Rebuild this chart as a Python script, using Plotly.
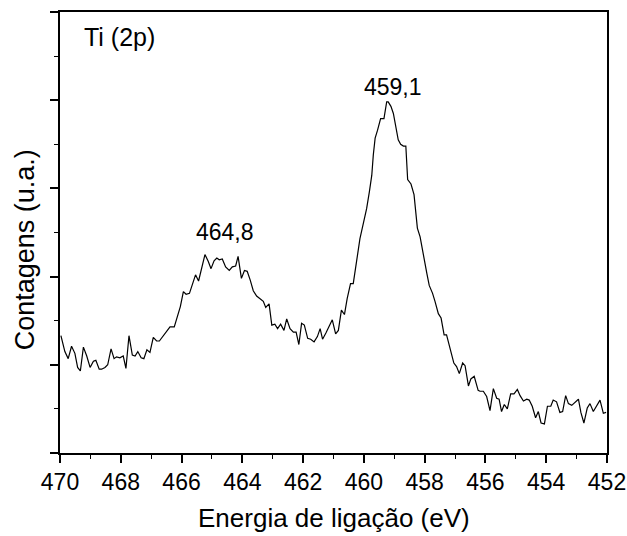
import plotly.graph_objects as go

energia = [469.97, 469.84, 469.73, 469.62, 469.51, 469.42, 469.33, 469.23, 469.12, 469.01,
           468.90, 468.82, 468.71, 468.63, 468.52, 468.43, 468.32, 468.22, 468.14, 468.03,
           467.92, 467.83, 467.73, 467.62, 467.53, 467.44, 467.33, 467.24, 467.14, 467.04,
           466.93, 466.82, 466.73, 466.60, 466.49, 466.38, 466.24, 466.14, 466.04, 465.94,
           465.85, 465.74, 465.63, 465.54, 465.44, 465.34, 465.23, 465.12, 465.03, 464.93,
           464.84, 464.76, 464.66, 464.55, 464.43, 464.33, 464.22, 464.14, 464.03, 463.93,
           463.84, 463.74, 463.64, 463.53, 463.42, 463.31, 463.23, 463.12, 463.03, 462.93,
           462.84, 462.74, 462.63, 462.54, 462.43, 462.32, 462.23, 462.14, 462.05, 461.96,
           461.85, 461.75, 461.64, 461.53, 461.44, 461.36, 461.25, 461.14, 461.04, 460.93,
           460.84, 460.74, 460.64, 460.55, 460.44, 460.35, 460.24, 460.13, 460.02, 459.91,
           459.82, 459.74, 459.69, 459.63, 459.55, 459.45, 459.34, 459.25, 459.20, 459.11,
           459.03, 458.94, 458.87, 458.79, 458.70, 458.62, 458.56, 458.45, 458.35, 458.24,
           458.15, 458.07, 457.99, 457.93, 457.85, 457.74, 457.66, 457.55, 457.46, 457.36,
           457.28, 457.19, 457.11, 457.04, 456.95, 456.86, 456.75, 456.67, 456.56, 456.48,
           456.37, 456.24, 456.18, 456.07, 455.96, 455.85, 455.74, 455.63, 455.55, 455.47,
           455.38, 455.28, 455.17, 455.06, 454.95, 454.86, 454.75, 454.64, 454.56, 454.46,
           454.35, 454.26, 454.17, 454.06, 453.96, 453.85, 453.77, 453.66, 453.55, 453.46,
           453.36, 453.27, 453.16, 453.05, 452.94, 452.86, 452.76, 452.65, 452.56, 452.45,
           452.34, 452.23, 452.12, 452.03]

contagens = [1.33, 1.15, 1.07, 1.21, 1.13, 0.97, 0.93, 1.20, 1.10, 0.97,
             1.04, 1.05, 0.95, 0.95, 0.97, 1.00, 1.18, 1.07, 1.09, 1.08,
             1.10, 0.96, 1.33, 1.11, 1.10, 1.15, 1.08, 1.07, 1.17, 1.14,
             1.31, 1.27, 1.27, 1.33, 1.38, 1.43, 1.43, 1.56, 1.66, 1.83,
             1.80, 1.81, 1.92, 2.02, 1.95, 2.09, 2.25, 2.17, 2.09, 2.18,
             2.21, 2.19, 2.20, 2.11, 2.07, 2.11, 2.12, 2.23, 1.98, 2.07,
             2.06, 1.96, 1.84, 1.78, 1.75, 1.72, 1.65, 1.69, 1.45, 1.46,
             1.41, 1.46, 1.39, 1.52, 1.41, 1.37, 1.37, 1.23, 1.47, 1.45,
             1.30, 1.29, 1.26, 1.32, 1.41, 1.29, 1.36, 1.43, 1.51, 1.35,
             1.39, 1.62, 1.57, 1.75, 1.92, 1.92, 2.19, 2.43, 2.60, 2.77,
             2.96, 3.15, 3.38, 3.57, 3.66, 3.79, 3.79, 3.98, 3.98, 3.93,
             3.85, 3.70, 3.55, 3.50, 3.48, 3.48, 3.10, 3.05, 2.93, 2.55,
             2.45, 2.30, 2.13, 2.04, 1.90, 1.81, 1.72, 1.58, 1.53, 1.34,
             1.34, 1.21, 1.09, 1.02, 0.98, 0.90, 1.02, 0.99, 0.76, 0.84,
             0.87, 0.71, 0.70, 0.70, 0.64, 0.48, 0.73, 0.62, 0.61, 0.47,
             0.55, 0.50, 0.67, 0.67, 0.72, 0.65, 0.59, 0.61, 0.60, 0.53,
             0.40, 0.47, 0.34, 0.33, 0.53, 0.53, 0.60, 0.58, 0.46, 0.47,
             0.65, 0.56, 0.54, 0.57, 0.61, 0.46, 0.34, 0.51, 0.56, 0.47,
             0.54, 0.60, 0.45, 0.46]

x_ticks = [470, 468, 466, 464, 462, 460, 458, 456, 454, 452]
rotulos_x = [464.57, 459.04]
rotulos_y = [2.51, 4.15]
rotulos_txt = ["464,8", "459,1"]

FONT = "Liberation Sans, Arial, sans-serif"

fig = go.Figure()
fig.add_trace(go.Scatter(x=energia, y=contagens, mode="lines",
                         line=dict(color="black", width=1.2), showlegend=False))

for px, py, t in zip(rotulos_x, rotulos_y, rotulos_txt):
    fig.add_annotation(x=px, y=py, text=t, showarrow=False,
                       xanchor="center", yanchor="middle",
                       font=dict(size=23, color="black", family=FONT))

fig.add_annotation(x=0.04, y=0.98, xref="paper", yref="paper", text="Ti (2p)",
                   showarrow=False, xanchor="left", yanchor="top",
                   font=dict(size=25, color="black", family=FONT))

# axis titles
fig.add_annotation(x=0.5, y=-0.147, xref="paper", yref="paper",
                   text="Energia de ligação (eV)", showarrow=False,
                   xanchor="center", yanchor="middle",
                   font=dict(size=26, color="black", family=FONT))
fig.add_annotation(x=-0.064, y=0.462, xref="paper", yref="paper",
                   text="Contagens (u.a.)", showarrow=False, textangle=-90,
                   xanchor="center", yanchor="middle",
                   font=dict(size=27, color="black", family=FONT))

fig.update_layout(
    width=627, height=536,
    margin=dict(l=60, r=20, t=12, b=83),
    paper_bgcolor="white", plot_bgcolor="white",
    font=dict(family=FONT, color="black"),
    xaxis=dict(range=[470, 452], tickvals=x_ticks, ticktext=[str(v) for v in x_ticks],
               ticks="outside", ticklen=8, tickwidth=1.5, tickcolor="black",
               minor=dict(dtick=1, ticks="outside", ticklen=4, tickwidth=1.2, tickcolor="black"),
               showline=True, linecolor="black", linewidth=1.5, mirror=True,
               showgrid=False, zeroline=False, automargin=False,
               tickfont=dict(size=23, family=FONT, color="black")),
    yaxis=dict(range=[0, 5], dtick=1, tick0=0, showticklabels=False,
               ticks="outside", ticklen=8, tickwidth=1.5, tickcolor="black",
               minor=dict(dtick=0.5, ticks="outside", ticklen=4, tickwidth=1.2, tickcolor="black"),
               showline=True, linecolor="black", linewidth=1.5, mirror=True,
               showgrid=False, zeroline=False, automargin=False),
)

fig.write_html("out.html", config={"displayModeBar": False},
               post_script="document.body.style.margin='0';document.body.style.overflow='hidden';")
